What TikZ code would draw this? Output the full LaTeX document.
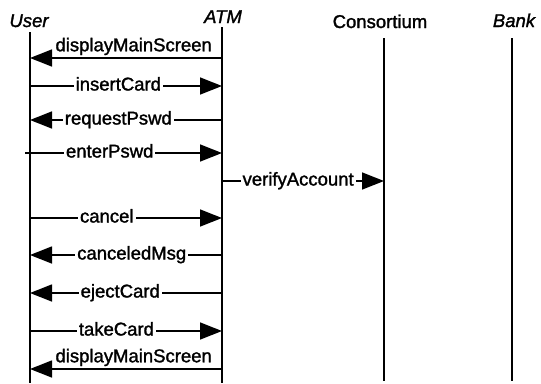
\documentclass[tikz,border=0pt]{standalone}
\usepackage{fontspec}
\setmainfont{Liberation Sans}[FakeBold=1.5]
\usetikzlibrary{arrows.meta}

\begin{document}
\begin{tikzpicture}[x=1pt,y=-1pt]
		\tikzset{lifeline/.style={line width=1.6pt},
			msg/.style={line width=1.5pt,-{Triangle[length=22pt,width=17pt]}},
			msg label/.style={fill=white,inner sep=2pt,text height=13pt,text depth=4pt,font=\fontsize{18.5}{20}\selectfont},
			actor/.style={anchor=base,font=\fontsize{18.5}{20}\selectfont\itshape}}
		\useasboundingbox (0,0) rectangle (541,383);
		
		\node [actor] (user) at (29,27) {User};
		\node [actor] (atm) at (223,23) {ATM};
		\node [actor,font=\fontsize{18.5}{20}\selectfont] (cons) at (380,28) {Consortium};
		\node [actor] (bank) at (514,27) {Bank};
		
		\coordinate (user top) at (30,32);   \coordinate (user end) at (30,383);
		\coordinate (atm top) at (222,27);   \coordinate (atm end) at (222,383);
		\coordinate (cons top) at (384,38);  \coordinate (cons end) at (384,381);
		\coordinate (bank top) at (512,38);  \coordinate (bank end) at (512,381);
		\draw[lifeline] (user top) -- (user end);
		\draw[lifeline] (atm top) -- (atm end);
		\draw[lifeline] (cons top) -- (cons end);
		\draw[lifeline] (bank top) -- (bank end);
		
		\foreach \n/\y in {1/58,2/86,3/120,4/153,6/218,7/255,8/293,9/331,10/369}{
			\coordinate (u\n) at (30,\y);
			\coordinate (a\n) at (222,\y);
		}
		\coordinate (u4) at (25,153);
		\coordinate (a5) at (222,181);
		\coordinate (c5) at (384,181);
		
		\draw[msg] (a1) -- (u1) node[msg label,above,fill=none,pos=.46] {displayMainScreen};
		\draw[msg] (u2) -- (a2) node[msg label,pos=.46] {insertCard};
		\draw[msg] (a3) -- (u3) node[msg label,pos=.54] {requestPswd};
		\draw[msg] (u4) -- (a4) node[msg label,pos=.43] {enterPswd};
		\draw[msg] (a5) -- (c5) node[msg label,pos=.47] {verifyAccount};
		\draw[msg] (u6) -- (a6) node[msg label,pos=.40] {cancel};
		\draw[msg] (a7) -- (u7) node[msg label,pos=.47] {canceledMsg};
		\draw[msg] (a8) -- (u8) node[msg label,pos=.53] {ejectCard};
		\draw[msg] (u9) -- (a9) node[msg label,pos=.45] {takeCard};
		\draw[msg] (a10) -- (u10) node[msg label,above,fill=none,pos=.46] {displayMainScreen};
		\end{tikzpicture}
\end{document}
